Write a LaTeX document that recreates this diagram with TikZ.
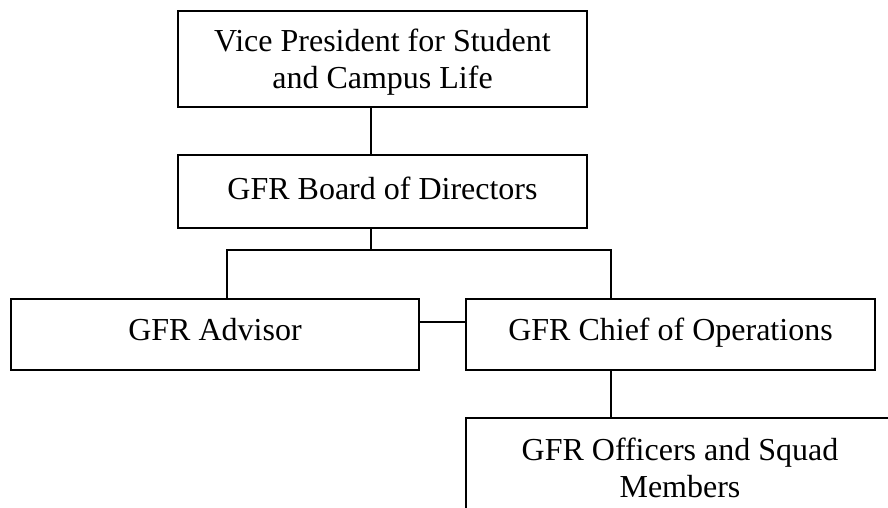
\documentclass[tikz,border=0pt]{standalone}
\usepackage{fontspec}
\setmainfont{Liberation Serif}
\begin{document}
\begin{tikzpicture}[x=1pt,y=-1pt,
  orgbox/.style={draw=black, line width=2pt, rectangle, anchor=north west,
    inner sep=0pt, outer sep=0pt},
  orgtext/.style={anchor=base, inner sep=0pt, align=center,
    font=\fontsize{32}{37}\selectfont},
  link/.style={draw=black, line width=1.6pt}]
\path[use as bounding box, clip] (0,0) rectangle (888,508);
\node[orgbox, minimum width=409pt, minimum height=96pt] (vp) at (178,11) {};
\node[orgbox, minimum width=409pt, minimum height=73pt] (bod) at (178,155) {};
\node[orgbox, minimum width=408pt, minimum height=71pt] (adv) at (11,299) {};
\node[orgbox, minimum width=409pt, minimum height=71pt] (coo) at (466,299) {};
\node[orgbox, minimum width=428pt, minimum height=112pt] (off) at (466,418) {};
% base anchor of a multi-line text = baseline of its last line
\node[orgtext] (vpt) at (382.5,89) {Vice President for Student\\and Campus Life};
\node[orgtext] (bodt) at (382.5,199) {GFR Board of Directors};
\node[orgtext] (advt) at (215,340) {GFR Advisor};
\node[orgtext] (coot) at (670.5,340) {GFR Chief of Operations};
\node[orgtext] (offt) at (680,497) {GFR Officers and Squad\\Members};
\coordinate (j) at (371,250);
\coordinate (jl) at (227,250);
\coordinate (jr) at (611,250);
\coordinate (h) at (0,322);
\draw[link] (vp.south -| j) -- (bod.north -| j);
\draw[link] (bod.south -| j) -- (j);
\draw[link] (adv.north -| jl) -- (jl) -- (jr) -- (coo.north -| jr);
\draw[link] (adv.east |- h) -- (coo.west |- h);
\draw[link] (coo.south -| jr) -- (off.north -| jr);
\end{tikzpicture}
\end{document}
